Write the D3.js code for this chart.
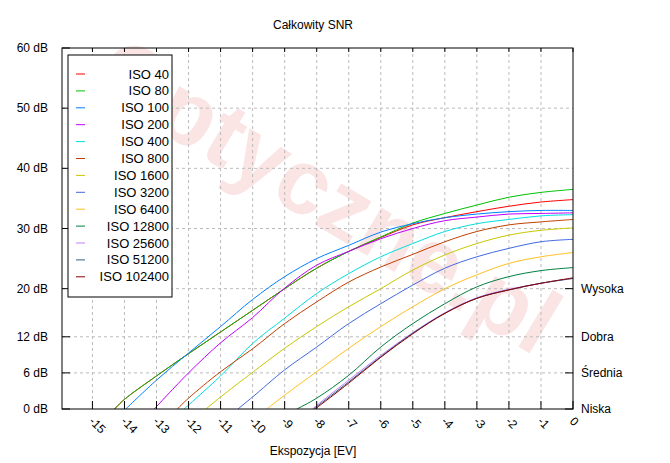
<!DOCTYPE html>
<html><head><meta charset="utf-8">
<script src="https://cdn.jsdelivr.net/npm/d3@7/dist/d3.min.js"></script>
<style>body{margin:0;background:#fff}text{font-family:"Liberation Sans",Arial,sans-serif;font-size:12px}</style>
</head><body><svg id="c" width="670" height="463"></svg>
<script>
const seriesNames=["ISO 40","ISO 80","ISO 100","ISO 200","ISO 400","ISO 800","ISO 1600","ISO 3200","ISO 6400","ISO 12800","ISO 25600","ISO 51200","ISO 102400"];
const colors=["#ff0000","#00c000","#0080ff","#c000ff","#00e0e0","#c04000","#c8c800","#4169e1","#ffc020","#008040","#c080ff","#306080","#8b0000"];
const evs=[-14,-13,-12,-11,-10,-9,-8,-7,-6,-5,-4,-3,-2,-1,0];
const starts=[-14.31,-14.31,-13.96,-13.07,-12.14,-12.35,-11.46,-10.46,-9.56,-8.62,-8.13,-8.1,-8.05];
const iso40=[1.6,5.5,9.2,12.8,16.4,20,23.4,26.2,28.5,30.6,31.8,32.8,33.7,34.4,34.8];
const iso80=[1.6,5.5,9.2,12.8,16.4,20,23.4,26.2,28.6,30.9,32.5,33.9,35.2,36.0,36.5];
const iso100=[null,4.8,9.3,13.7,18.2,22,25,27.2,29.4,30.8,31.8,32.4,32.8,33,33];
const iso200=[null,null,6,11,15.2,20.1,23.9,26.2,28.3,30,31.3,31.9,32.4,32.5,32.6];
const iso400=[null,null,null,5.5,10.9,15.1,19.2,22.5,25.3,27.5,29.5,30.8,31.5,32.1,32.3];
const iso800=[null,null,1.8,6.2,10,14.2,17.8,21.1,23.6,25.7,27.8,29.5,30.6,31.1,31.5];
const iso1600=[null,null,null,2,6.1,10.1,13.7,17,20,23.1,25.6,27.5,28.9,29.7,30.1];
const iso3200=[null,null,null,null,2,6.5,10.3,14.2,17.5,20.6,23.4,25.3,26.7,27.8,28.2];
const iso6400=[null,null,null,null,null,2.3,6.2,10.1,13.7,17,20,22.3,24.2,25.3,26];
const iso12800=[null,null,null,null,null,null,1.8,5.6,10.3,14.2,17.5,20.3,22,23,23.5];
const iso25600=[null,null,null,null,null,null,0.6,4.8,8.9,12.7,16,18.5,19.9,20.9,21.7];
const iso51200=[null,null,null,null,null,null,0.4,4.5,8.7,12.6,15.9,18.4,19.8,20.9,21.7];
const iso102400=[null,null,null,null,null,null,0.2,4.3,8.6,12.5,15.9,18.4,19.8,20.9,21.8];
const allVals=[iso40,iso80,iso100,iso200,iso400,iso800,iso1600,iso3200,iso6400,iso12800,iso25600,iso51200,iso102400];
const xTicks=d3.range(-15,1);
const yTicks=[0,6,12,20,30,40,50,60];
const rightLabels=[[20,"Wysoka"],[12,"Dobra"],[6,"Średnia"],[0,"Niska"]];

const svg=d3.select("#c");
const L=62,R=573,T=48,B=409;
const x=d3.scaleLinear().domain([-15.95,0]).range([L,R]);
const y=d3.scaleLinear().domain([0,60]).range([B,T]);

svg.append("text").attr("transform","translate(88,88) rotate(31)").attr("fill","#f4c4c4").attr("opacity",0.45)
 .style("font-size","92px").style("font-weight","bold").text("Optyczne.pl");

const g=svg.append("g");
xTicks.forEach(t=>{ if(t<0) g.append("line").attr("x1",x(t)).attr("x2",x(t)).attr("y1",T).attr("y2",B).attr("stroke","#bbb").attr("stroke-dasharray","3,3");});
yTicks.forEach(t=>{ if(t>0&&t<60) g.append("line").attr("x1",L).attr("x2",R).attr("y1",y(t)).attr("y2",y(t)).attr("stroke","#bbb").attr("stroke-dasharray","3,3");});

svg.append("clipPath").attr("id","cp").append("rect").attr("x",L).attr("y",T).attr("width",R-L).attr("height",B-T);
const line=d3.line().x(d=>x(d[0])).y(d=>y(d[1])).curve(d3.curveCatmullRom);
allVals.forEach((vals,i)=>{
  const pts=[[starts[i],0]];
  vals.forEach((v,j)=>{ if(v!==null && evs[j]>starts[i]) pts.push([evs[j],v]); });
  svg.append("path").attr("clip-path","url(#cp)").attr("d",line(pts)).attr("fill","none").attr("stroke",colors[i]).attr("stroke-width",1);
});

svg.append("rect").attr("x",L).attr("y",T).attr("width",R-L).attr("height",B-T).attr("fill","none").attr("stroke","#000");
xTicks.forEach(t=>{
  svg.append("line").attr("x1",x(t)).attr("x2",x(t)).attr("y1",B).attr("y2",B-8).attr("stroke","#000");
  svg.append("line").attr("x1",x(t)).attr("x2",x(t)).attr("y1",T).attr("y2",T+4).attr("stroke","#000");
  svg.append("text").attr("transform",`translate(${x(t)-4},${B+13}) rotate(45)`).text(t);
});
yTicks.forEach(t=>{
  svg.append("line").attr("x1",L).attr("x2",L+8).attr("y1",y(t)).attr("y2",y(t)).attr("stroke","#000");
  svg.append("text").attr("x",L-14).attr("y",y(t)+4).attr("text-anchor","end").text(t+" dB");
});
rightLabels.forEach(([v,s])=>{
  svg.append("line").attr("x1",R).attr("x2",R-8).attr("y1",y(v)).attr("y2",y(v)).attr("stroke","#000");
  svg.append("text").attr("x",R+8).attr("y",y(v)+4).text(s);
});
svg.append("text").attr("x",313).attr("y",29).attr("text-anchor","middle").text("Całkowity SNR");
svg.append("text").attr("x",313).attr("y",455).attr("text-anchor","middle").text("Ekspozycja [EV]");

svg.append("rect").attr("x",68).attr("y",55).attr("width",104).attr("height",242).attr("fill","#fff").attr("stroke","#000");
seriesNames.forEach((n,i)=>{
  const yy=74+i*16.9;
  svg.append("line").attr("x1",76).attr("x2",85).attr("y1",yy).attr("y2",yy).attr("stroke",colors[i]);
  svg.append("text").attr("x",169).attr("y",yy+4.5).attr("text-anchor","end").style("font-size","13px").text(n);
});
</script></body></html>
